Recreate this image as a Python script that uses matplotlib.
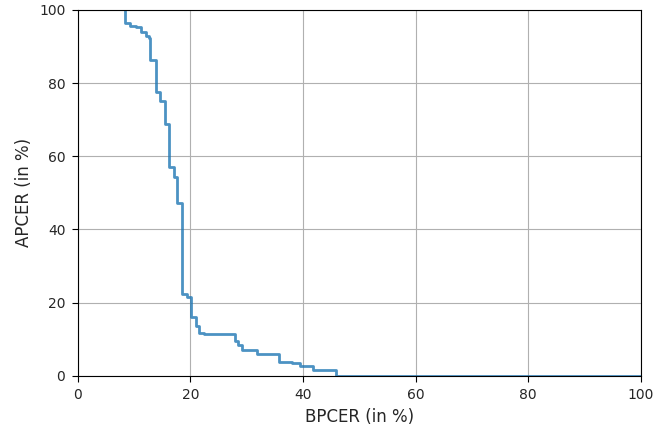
import matplotlib
matplotlib.use("Agg")
import matplotlib.pyplot as plt

# step points (BPCER, APCER level after the step)
bpcer = [8.3, 8.3, 9.2, 10.4, 11.2, 12.1, 12.6, 12.9, 13.9, 14.6, 15.4, 16.2,
         17.1, 17.6, 18.5, 19.3, 20.1, 20.9, 21.5, 22.4, 27.9, 28.5, 29.2,
         31.8, 35.7, 38.0, 39.4, 41.8, 45.8, 100.0]
apcer = [100.0, 96.4, 95.7, 95.2, 94.0, 93.0, 92.2, 86.3, 77.5, 75.1, 68.9,
         57.2, 54.2, 47.2, 22.3, 21.5, 16.2, 13.7, 11.7, 11.4, 9.6, 8.5, 7.1,
         6.0, 3.9, 3.5, 2.7, 1.6, 0.0, 0.0]

fig = plt.figure(figsize=(6.54, 4.30), dpi=100)
ax = fig.add_axes([0.119, 0.126, 0.861, 0.851])

ax.plot(bpcer, apcer, drawstyle="steps-post", color="#1f77b4", alpha=0.8,
        linewidth=2)
ax.set_xlim(0, 100)
ax.set_ylim(0, 100)
ax.set_xlabel("BPCER (in %)", fontsize=12, color="#262626")
ax.set_ylabel("APCER (in %)", fontsize=12, color="#262626")
ax.tick_params(labelsize=10, labelcolor="#262626", length=4.5, pad=4.5)
ax.grid(True)

fig.savefig("out.png", dpi=100)
